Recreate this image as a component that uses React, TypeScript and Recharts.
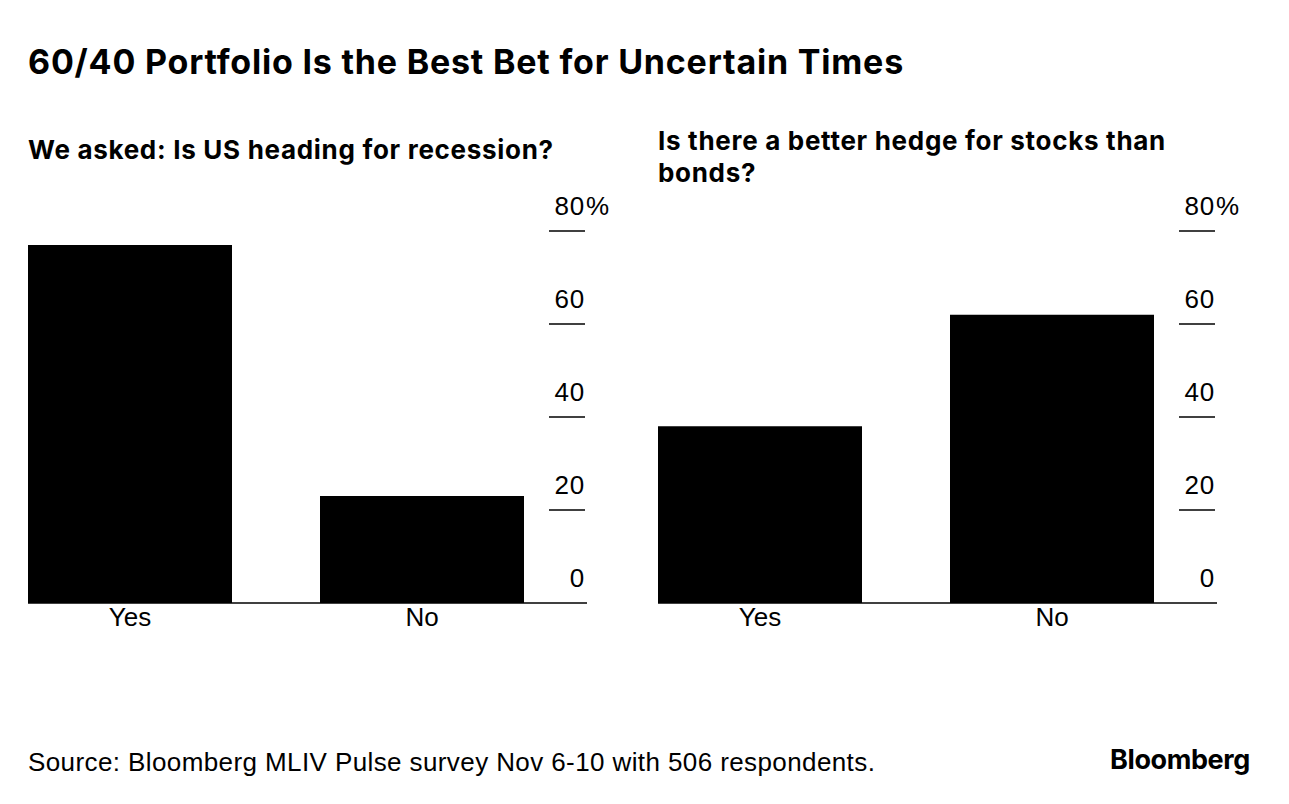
import { BarChart, Bar, XAxis, YAxis } from "recharts"

const categories = ["Yes", "No"]
const recessionValues = [77, 23]
const hedgeValues = [38, 62]
const yTicks = [0, 20, 40, 60, 80]

const bodyFont = "'Liberation Sans', Arial, sans-serif"
const headFont = "Inter, 'Liberation Sans', sans-serif"

function YTick(props: any) {
  const { x, y, payload } = props
  const v = payload.value
  return (
    <g>
      {v !== 0 && <line x1={x - 38} x2={x - 2} y1={y} y2={y} stroke="#000" strokeWidth={1.5} />}
      <text x={x - 2} y={y - 16} textAnchor="end" fontSize={26} fontFamily={bodyFont} fill="#000" letterSpacing={0.8}>
        {v}
      </text>
      {v === 80 && (
        <text x={x - 1} y={y - 16} textAnchor="start" fontSize={26} fontFamily={bodyFont} fill="#000">
          %
        </text>
      )}
    </g>
  )
}

function Panel({ values, left }: { values: number[]; left: number }) {
  const data = categories.map((name, i) => ({ name, value: values[i] }))
  return (
    <div style={{ position: "absolute", left, top: 190 }}>
      <BarChart width={640} height={460} data={data} margin={{ top: 41, right: 3, left: 28, bottom: 17 }}>
        <XAxis
          dataKey="name"
          padding={{ left: -44, right: 19 }}
          height={30}
          interval={0}
          tickLine={false}
          tickSize={0}
          tickMargin={5}
          axisLine={{ stroke: "#000", strokeWidth: 1.5 }}
          tick={{ fontSize: 26, fill: "#000", fontFamily: bodyFont }}
        />
        <YAxis
          orientation="right"
          domain={[0, 80]}
          ticks={yTicks}
          width={50}
          interval={0}
          axisLine={false}
          tickLine={false}
          tickSize={0}
          tickMargin={0}
          tick={<YTick />}
        />
        <Bar dataKey="value" fill="#000" barSize={204} isAnimationActive={false} />
      </BarChart>
    </div>
  )
}

export default function App() {
  return (
    <div style={{ position: "absolute", left: 0, top: 0, width: 1289, height: 804, background: "#fff", color: "#000" }}>
      <div style={{ position: "absolute", left: 28, top: 42, fontFamily: headFont, fontWeight: 700, fontSize: 34, lineHeight: "40px", letterSpacing: 0.8, whiteSpace: "nowrap" }}>
        60/40 Portfolio Is the Best Bet for Uncertain Times
      </div>
      <div style={{ position: "absolute", left: 28, top: 134, fontFamily: headFont, fontWeight: 700, fontSize: 26, lineHeight: "31px", letterSpacing: 0.7, whiteSpace: "nowrap" }}>
        We asked: Is US heading for recession?
      </div>
      <div style={{ position: "absolute", left: 658, top: 125, fontFamily: headFont, fontWeight: 700, fontSize: 26, lineHeight: "32px", letterSpacing: 0.7, whiteSpace: "nowrap" }}>
        Is there a better hedge for stocks than
        <br />
        bonds?
      </div>
      <Panel values={recessionValues} left={0} />
      <Panel values={hedgeValues} left={630} />
      <div style={{ position: "absolute", left: 28, top: 747, fontFamily: bodyFont, fontSize: 26, lineHeight: "31px", letterSpacing: 0.4, whiteSpace: "nowrap" }}>
        Source: Bloomberg MLIV Pulse survey Nov 6-10 with 506 respondents.
      </div>
      <div style={{ position: "absolute", left: 1110, top: 744, fontFamily: headFont, fontWeight: 700, fontSize: 27, lineHeight: "32px", letterSpacing: -0.4, whiteSpace: "nowrap" }}>
        Bloomberg
      </div>
    </div>
  )
}
